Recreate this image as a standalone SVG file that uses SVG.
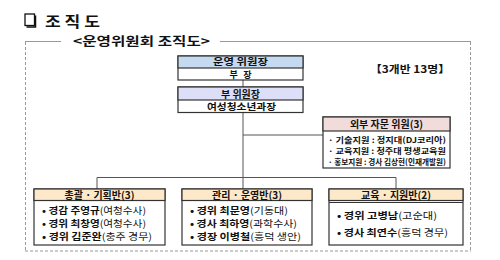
<svg xmlns="http://www.w3.org/2000/svg" width="500" height="260" viewBox="0 0 500 260">
<style>
text{font-family:"Noto Sans CJK KR","Noto Sans",sans-serif;fill:#111}
.b{font-weight:bold}
.box{fill:#fff;stroke:#333;stroke-width:1.2}
.hd{stroke:#333;stroke-width:1.2}
.ln{stroke:#555;stroke-width:1;fill:none}
.fr{stroke:#999;stroke-width:1;fill:none;stroke-dasharray:3 2}
.h{font-size:10px;font-weight:bold}
.t{font-size:9.5px}
.e{font-size:8px;font-weight:bold}
</style>
<rect x="0" y="0" width="500" height="260" fill="#fff"/>
<g id="title">
<rect x="25" y="14" width="9.5" height="11.5" fill="#fff" stroke="#111" stroke-width="1.3"/>
<path d="M35.5 15.5 V27 H26.5" fill="none" stroke="#111" stroke-width="1.5"/>
<text x="45" y="27" class="b" font-size="15" textLength="55" lengthAdjust="spacingAndGlyphs">조 직 도</text>
<text x="73" y="46" class="b" font-size="12" textLength="137" lengthAdjust="spacingAndGlyphs">&lt;운영위원회 조직도&gt;</text>
<text x="370" y="73" font-size="10" font-weight="bold" textLength="80" lengthAdjust="spacingAndGlyphs">【3개반 13명】</text>
</g>
<g id="frame">
<line x1="25" y1="41.5" x2="61" y2="41.5" stroke="#999"/>
<line x1="220" y1="41.5" x2="471" y2="41.5" stroke="#999"/>
<line class="fr" x1="25.5" y1="42" x2="25.5" y2="251"/>
<line class="fr" x1="470.5" y1="42" x2="470.5" y2="251"/>
<line class="fr" x1="25" y1="251" x2="471" y2="251"/>
</g>
<g id="connectors">
<line class="ln" x1="243" y1="80" x2="243" y2="87"/>
<line class="ln" x1="243" y1="112.5" x2="243" y2="189"/>
<line class="ln" x1="243" y1="135" x2="323" y2="135"/>
<polyline class="ln" points="97,189 97,177.5 396,177.5 396,189"/>
</g>
<g id="chair">
<rect class="box" x="178" y="56" width="125" height="24"/>
<rect x="178" y="56" width="125" height="12" fill="#c5d9f1" class="hd"/>
<text x="213" y="65" font-size="9.5" font-weight="bold" textLength="55" lengthAdjust="spacingAndGlyphs">운영 위원장</text>
<text x="240.5" y="78.3" font-size="9" font-weight="bold" text-anchor="middle" textLength="22" lengthAdjust="spacing">부 장</text>
</g>
<g id="vice">
<rect class="box" x="178" y="87" width="125" height="25.5"/>
<rect x="178" y="87" width="125" height="13" fill="#dcdff7" class="hd"/>
<text x="240.5" y="97.5" class="h" text-anchor="middle">부 위원장</text>
<text x="207" y="110" class="t" font-weight="bold" textLength="69" lengthAdjust="spacingAndGlyphs">여성청소년과장</text>
</g>
<g id="advisors">
<rect class="box" x="323" y="117" width="127" height="51"/>
<rect x="323" y="117" width="127" height="14" fill="#f2dcdb" class="hd"/>
<text x="386.5" y="128" class="h" text-anchor="middle">외부 자문 위원(3)</text>
<text x="328" y="143" class="e" textLength="118" lengthAdjust="spacingAndGlyphs">· 기술지원 : 정지대(DJ코리아)</text>
<text x="328" y="154" class="e" textLength="118" lengthAdjust="spacingAndGlyphs">· 교육지원 : 청주대 평생교육원</text>
<text x="328" y="165" class="e" textLength="118" lengthAdjust="spacingAndGlyphs">· 홍보지원 : 경사 김상현(인재개발원)</text>
</g>
<g id="team1">
<rect class="box" x="34" y="189" width="131" height="56"/>
<rect x="34" y="189" width="131" height="11.5" fill="#fde9c9" class="hd"/>
<text x="99.5" y="198.5" class="h" text-anchor="middle">총괄 · 기획반(3)</text>
<text x="42" y="214" class="t" textLength="104" lengthAdjust="spacingAndGlyphs"><tspan class="b">• 경감 주영규</tspan>(여청수사)</text>
<text x="42" y="227" class="t" textLength="104" lengthAdjust="spacingAndGlyphs"><tspan class="b">• 경위 최창영</tspan>(여청수사)</text>
<text x="42" y="240" class="t" textLength="110" lengthAdjust="spacingAndGlyphs"><tspan class="b">• 경위 김준완</tspan>(충주 경무)</text>
</g>
<g id="team2">
<rect class="box" x="182" y="189" width="130" height="56"/>
<rect x="182" y="189" width="130" height="11.5" fill="#fde9c9" class="hd"/>
<text x="247" y="198.5" class="h" text-anchor="middle">관리 · 운영반(3)</text>
<text x="190" y="214" class="t" textLength="98" lengthAdjust="spacingAndGlyphs"><tspan class="b">• 경위 최문영</tspan>(기동대)</text>
<text x="190" y="227" class="t" textLength="107" lengthAdjust="spacingAndGlyphs"><tspan class="b">• 경사 최하영</tspan>(과학수사)</text>
<text x="190" y="240" class="t" textLength="111" lengthAdjust="spacingAndGlyphs"><tspan class="b">• 경장 이병철</tspan>(흥덕 생안)</text>
</g>
<g id="team3">
<rect class="box" x="329" y="189" width="134" height="56"/>
<rect x="329" y="189" width="134" height="11.5" fill="#fde9c9" class="hd"/>
<line x1="329" y1="202.5" x2="463" y2="202.5" stroke="#333" stroke-width="1"/>
<text x="396" y="198.5" class="h" text-anchor="middle">교육 · 지원반(2)</text>
<text x="337" y="219" class="t" textLength="100" lengthAdjust="spacingAndGlyphs"><tspan class="b">• 경위 고병남</tspan>(고순대)</text>
<text x="337" y="236" class="t" textLength="111" lengthAdjust="spacingAndGlyphs"><tspan class="b">• 경사 최연수</tspan>(흥덕 경무)</text>
</g>
</svg>
